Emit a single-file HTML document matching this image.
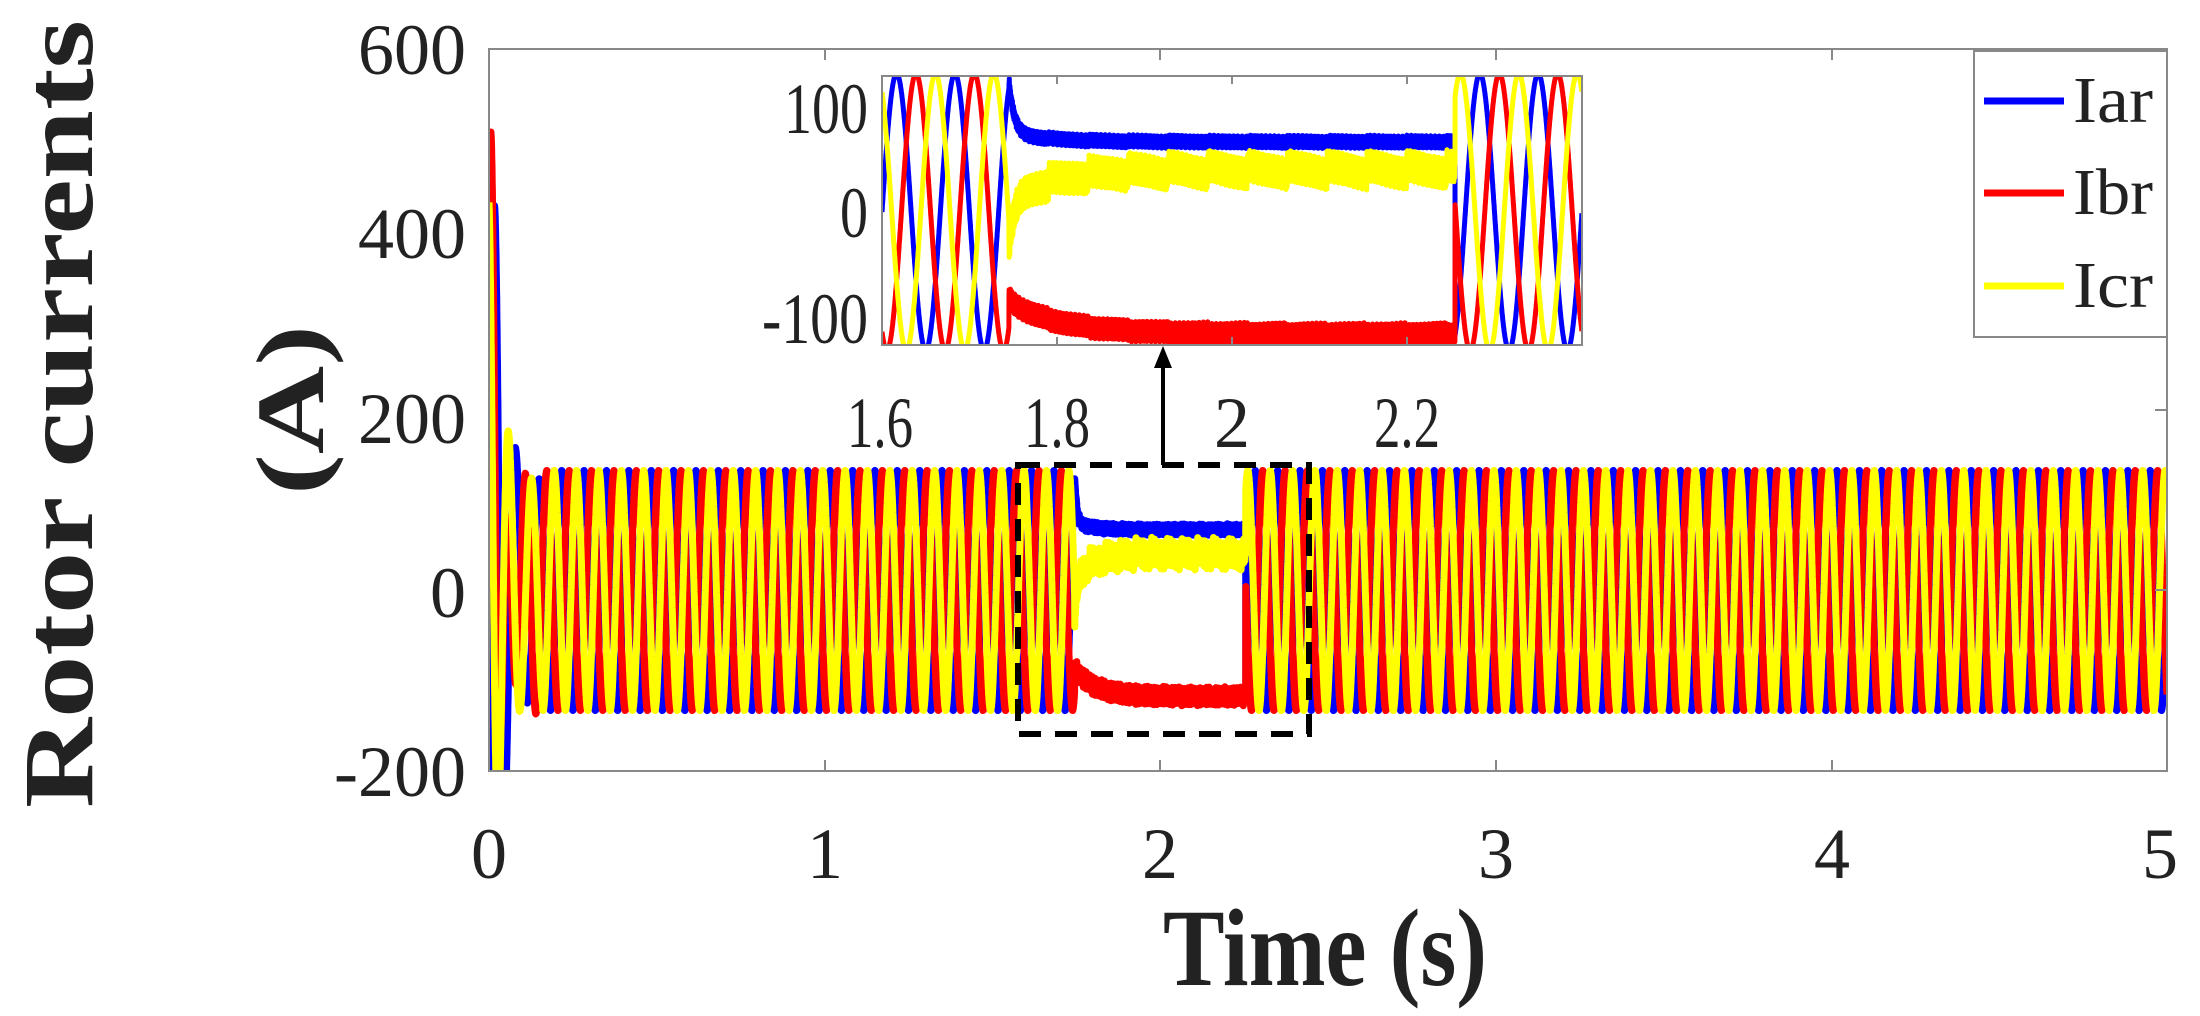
<!DOCTYPE html>
<html><head><meta charset="utf-8"><style>
html,body{margin:0;padding:0;background:#fff;}
svg{display:block;}
text{font-family:"Liberation Serif",serif;fill:#222;}
</style></head><body>
<svg id="s" width="2200" height="1016" viewBox="0 0 2200 1016" xmlns="http://www.w3.org/2000/svg">
<rect width="2200" height="1016" fill="#fff"/>
<defs>
<clipPath id="cm"><rect x="489" y="49" width="1678" height="722"/></clipPath>
<clipPath id="ci"><rect x="882" y="76" width="700" height="269"/></clipPath>
</defs>
<g id="main" clip-path="url(#cm)"></g>
<rect x="489" y="49" width="1678" height="722" fill="none" stroke="#888" stroke-width="2"/>
<g stroke="#888" stroke-width="2">
<line x1="825" y1="49" x2="825" y2="60"/><line x1="1160" y1="49" x2="1160" y2="60"/><line x1="1496" y1="49" x2="1496" y2="60"/><line x1="1832" y1="49" x2="1832" y2="60"/>
<line x1="825" y1="771" x2="825" y2="760"/><line x1="1160" y1="771" x2="1160" y2="760"/><line x1="1496" y1="771" x2="1496" y2="760"/><line x1="1832" y1="771" x2="1832" y2="760"/>
<line x1="2167" y1="229" x2="2155" y2="229"/><line x1="2167" y1="410" x2="2155" y2="410"/><line x1="2167" y1="590" x2="2155" y2="590"/>
</g>
<rect x="1018" y="465" width="291" height="269" fill="none" stroke="#000" stroke-width="6" stroke-dasharray="22,14"/>
<line x1="1163" y1="465" x2="1163" y2="360" stroke="#000" stroke-width="4"/>
<polygon points="1163,346 1154,368 1172,368" fill="#000"/>
<rect x="882" y="76" width="700" height="269" fill="#fff"/>
<g id="ins" clip-path="url(#ci)"></g>
<rect x="882" y="76" width="700" height="269" fill="none" stroke="#888" stroke-width="2"/>
<g stroke="#888" stroke-width="2">
<line x1="1057" y1="76" x2="1057" y2="84"/><line x1="1232" y1="76" x2="1232" y2="84"/><line x1="1407" y1="76" x2="1407" y2="84"/>
<line x1="1057" y1="345" x2="1057" y2="337"/><line x1="1232" y1="345" x2="1232" y2="337"/><line x1="1407" y1="345" x2="1407" y2="337"/>
</g>
<g font-size="72" text-anchor="end">
<text x="868" y="133" textLength="84" lengthAdjust="spacingAndGlyphs">100</text>
<text x="868" y="237" textLength="28" lengthAdjust="spacingAndGlyphs">0</text>
<text x="868" y="343" textLength="106" lengthAdjust="spacingAndGlyphs">-100</text>
</g>
<g font-size="72" text-anchor="middle">
<text x="880" y="447" textLength="66" lengthAdjust="spacingAndGlyphs">1.6</text>
<text x="1057" y="447" textLength="66" lengthAdjust="spacingAndGlyphs">1.8</text>
<text x="1232" y="447">2</text>
<text x="1407" y="447" textLength="66" lengthAdjust="spacingAndGlyphs">2.2</text>
</g>
<rect x="1974" y="51" width="193" height="286" fill="#fff" stroke="#888" stroke-width="2"/>
<line x1="1984" y1="101" x2="2064" y2="101" stroke="#0000ff" stroke-width="7"/>
<line x1="1984" y1="193" x2="2064" y2="193" stroke="#ff0000" stroke-width="7"/>
<line x1="1984" y1="286" x2="2064" y2="286" stroke="#ffff00" stroke-width="7"/>
<g font-size="66">
<text x="2073" y="122" textLength="80" lengthAdjust="spacingAndGlyphs">Iar</text>
<text x="2073" y="214" textLength="80" lengthAdjust="spacingAndGlyphs">Ibr</text>
<text x="2073" y="307" textLength="80" lengthAdjust="spacingAndGlyphs">Icr</text>
</g>
<g font-size="72" text-anchor="end">
<text x="466" y="74">600</text>
<text x="466" y="258">400</text>
<text x="466" y="443">200</text>
<text x="466" y="617">0</text>
<text x="466" y="796">-200</text>
</g>
<g font-size="72" text-anchor="middle">
<text x="489" y="878">0</text><text x="825" y="878">1</text><text x="1160" y="878">2</text>
<text x="1496" y="878">3</text><text x="1832" y="878">4</text><text x="2160" y="878">5</text>
</g>
<text x="1163" y="985" font-size="110" font-weight="bold" textLength="324" lengthAdjust="spacingAndGlyphs" fill="#222">Time (s)</text>
<text transform="translate(92,808) rotate(-90)" font-size="100" font-weight="bold" textLength="788" lengthAdjust="spacingAndGlyphs">Rotor currents</text>
<text transform="translate(323,495) rotate(-90)" font-size="96" font-weight="bold" textLength="170" lengthAdjust="spacingAndGlyphs">(A)</text>
</svg>
<script>
(function(){
var NS="http://www.w3.org/2000/svg";
var f=15,A=133,T0=1.745,T1=2.255;
function nz(t,k){return Math.sin(t*9000+k*1.7)*0.6+Math.sin(t*23100+k*3.1)*0.4;}
var tgt=[68,-118,45],band=[6,10,15];
function val(k,t){
  var ph=2*Math.PI*f*t-k*2*Math.PI/3;
  var s=A*Math.sin(ph);
  if(t<0.16){
    var e=Math.exp(-t/0.035);
    var tr=[[620,0.018],[640,0.008],[430,0.0]][k];
    var d=tr[0]*e*Math.cos(2*Math.PI*18*(t-tr[1]));
    var v=s*(1-Math.exp(-t/0.04))+d;
    return Math.max(-205,Math.min(605,v));
  }
  if(t>T0&&t<T1){
    var u=t-T0, g=tgt[k];
    var start=A*Math.sin(2*Math.PI*f*T0-k*2*Math.PI/3);
    var base=g+(start-g)*Math.exp(-u/0.006);
    if(k==2) base-=30*Math.exp(-u/0.05);
    if(k==1) base+=30*Math.exp(-u/0.06);
    if(k==0) base+=8*Math.exp(-u/0.05);
    var tooth=((u*22)%1)*band[k]*0.6;
    return base+band[k]*nz(t,k)+(k==0?-tooth*0.3:(k==1?tooth*0.3:-tooth));
  }
  return s;
}
var cols=["#0000ff","#ff0000","#ffff00"];
function draw(gid,t0,t1,dt,X,Y,w){
  var g=document.getElementById(gid);
  for(var k=0;k<3;k++){
    var p=[];
    for(var t=t0;t<=t1;t+=dt){p.push(X(t).toFixed(1)+","+Y(val(k,t)).toFixed(1));}
    var pl=document.createElementNS(NS,"polyline");
    pl.setAttribute("points",p.join(" "));
    pl.setAttribute("fill","none");pl.setAttribute("stroke",cols[k]);
    pl.setAttribute("stroke-width",w);pl.setAttribute("stroke-linejoin","round");
    g.appendChild(pl);
  }
}
draw("main",0,5,0.0004,function(t){return 489+t*335.6;},function(v){return 590.5-v*0.9025;},7);
draw("ins",1.6,2.4,0.0001,function(t){return 882+(t-1.6)*875;},function(v){return 212-v*1.04;},5);
})();
</script>
</body></html>
